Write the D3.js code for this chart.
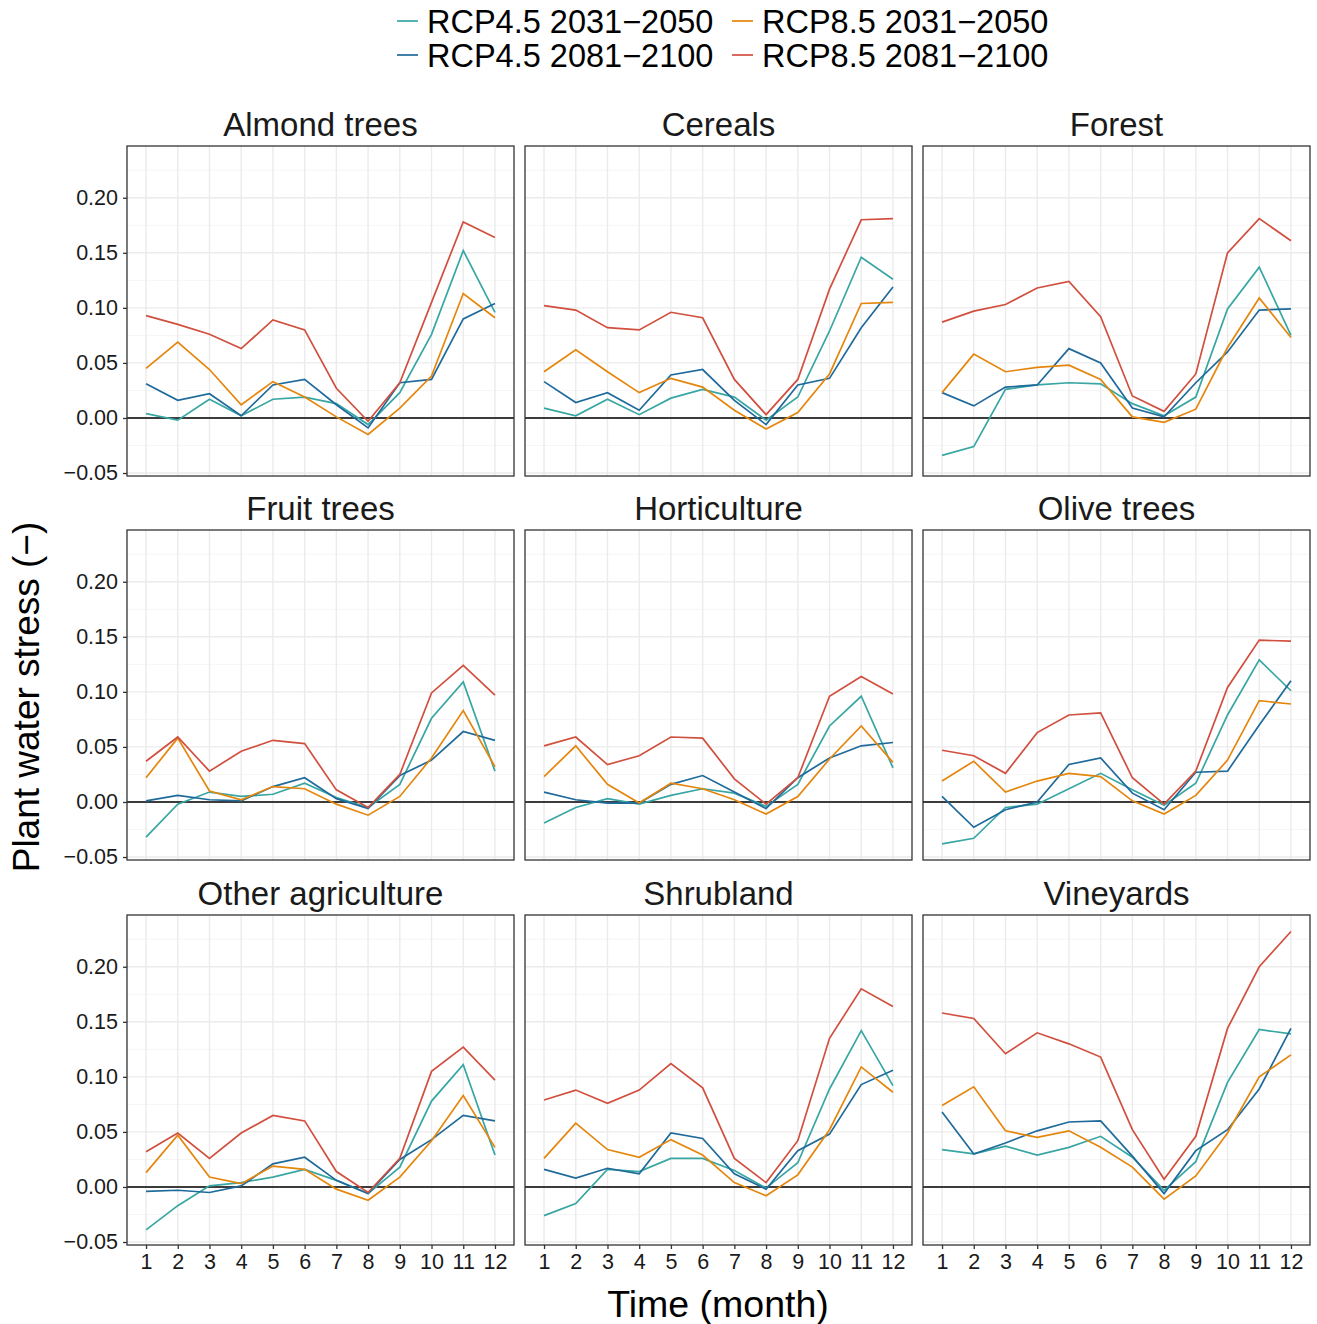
<!DOCTYPE html>
<html lang="en">
<head>
  <meta charset="UTF-8" />
  <title>Plant water stress</title>
  <style>
    body { margin: 0; background: #fff; font-family: 'Liberation Sans', Arial, sans-serif; }
    .grid-major { stroke: #ebebeb; stroke-width: 1.4px; }
    .grid-minor { stroke: #f3f3f3; stroke-width: 0.8px; }
    .series { fill: none; stroke-width: 1.7px; }
    .tick-label { font-size: 21.5px; fill: #1a1a1a; }
  </style>
</head>
<body>
  <svg id="chart"></svg>
  <script src="https://d3js.org/d3.v7.min.js"></script>
  <script>
    const width = 1317;
    const height = 1324;

    const months = [1, 2, 3, 4, 5, 6, 7, 8, 9, 10, 11, 12];
    const landUses = ["Almond trees", "Cereals", "Forest", "Fruit trees", "Horticulture",
      "Olive trees", "Other agriculture", "Shrubland", "Vineyards"];
    const scenarios = ["RCP4.5 2031\u22122050", "RCP4.5 2081\u22122100", "RCP8.5 2031\u22122050", "RCP8.5 2081\u22122100"];
    const colors = ["#38a6a3", "#1f6a9b", "#e5860c", "#d14f3e"];
    const yTicks = [-0.05, 0, 0.05, 0.10, 0.15, 0.20];
    const yMinor = [-0.025, 0.025, 0.075, 0.125, 0.175, 0.225];

    // one row per land use, one value per month
    const rcp45Mid = [
      [0.004, -0.002, 0.017, 0.002, 0.017, 0.019, 0.013, -0.006, 0.023, 0.076, 0.152, 0.096],
      [0.009, 0.002, 0.017, 0.003, 0.018, 0.026, 0.019, -0.002, 0.019, 0.079, 0.146, 0.126],
      [-0.034, -0.026, 0.026, 0.030, 0.032, 0.031, 0.013, 0.002, 0.019, 0.099, 0.137, 0.075],
      [-0.032, -0.002, 0.009, 0.005, 0.007, 0.017, 0.004, -0.005, 0.016, 0.076, 0.109, 0.028],
      [-0.019, -0.005, 0.003, -0.002, 0.006, 0.012, 0.008, -0.004, 0.016, 0.069, 0.096, 0.031],
      [-0.038, -0.033, -0.005, -0.002, 0.012, 0.026, 0.011, -0.003, 0.017, 0.079, 0.129, 0.101],
      [-0.039, -0.017, 0.001, 0.004, 0.009, 0.016, 0.006, -0.006, 0.018, 0.078, 0.111, 0.029],
      [-0.026, -0.015, 0.016, 0.014, 0.026, 0.026, 0.015, -0.001, 0.022, 0.089, 0.142, 0.092],
      [0.034, 0.030, 0.037, 0.029, 0.036, 0.046, 0.027, -0.003, 0.023, 0.095, 0.143, 0.139]
    ];
    const rcp45Far = [
      [0.031, 0.016, 0.022, 0.002, 0.030, 0.035, 0.012, -0.009, 0.032, 0.035, 0.090, 0.104],
      [0.033, 0.014, 0.023, 0.007, 0.039, 0.044, 0.016, -0.006, 0.030, 0.036, 0.082, 0.119],
      [0.023, 0.011, 0.028, 0.030, 0.063, 0.050, 0.009, 0.001, 0.032, 0.060, 0.098, 0.099],
      [0.001, 0.006, 0.002, 0.001, 0.014, 0.022, 0.003, -0.006, 0.024, 0.038, 0.064, 0.056],
      [0.009, 0.002, -0.001, -0.001, 0.016, 0.024, 0.009, -0.006, 0.022, 0.040, 0.051, 0.054],
      [0.005, -0.023, -0.007, 0.000, 0.034, 0.040, 0.008, -0.007, 0.027, 0.028, 0.070, 0.110],
      [-0.004, -0.003, -0.005, 0.001, 0.021, 0.027, 0.006, -0.006, 0.025, 0.043, 0.065, 0.060],
      [0.016, 0.008, 0.017, 0.012, 0.049, 0.044, 0.012, -0.002, 0.033, 0.048, 0.093, 0.106],
      [0.068, 0.030, 0.040, 0.051, 0.059, 0.060, 0.028, -0.006, 0.033, 0.052, 0.089, 0.144]
    ];
    const rcp85Mid = [
      [0.045, 0.069, 0.044, 0.012, 0.033, 0.019, 0.001, -0.015, 0.009, 0.038, 0.113, 0.091],
      [0.042, 0.062, 0.042, 0.023, 0.036, 0.028, 0.007, -0.010, 0.005, 0.040, 0.104, 0.105],
      [0.023, 0.058, 0.042, 0.046, 0.048, 0.035, 0.001, -0.004, 0.008, 0.064, 0.109, 0.073],
      [0.022, 0.058, 0.010, 0.002, 0.014, 0.012, -0.002, -0.012, 0.005, 0.040, 0.083, 0.032],
      [0.023, 0.051, 0.016, -0.001, 0.017, 0.012, 0.002, -0.011, 0.005, 0.039, 0.069, 0.036],
      [0.019, 0.037, 0.009, 0.019, 0.026, 0.023, 0.001, -0.011, 0.006, 0.038, 0.092, 0.089],
      [0.013, 0.047, 0.009, 0.003, 0.019, 0.016, -0.002, -0.012, 0.009, 0.042, 0.083, 0.036],
      [0.026, 0.058, 0.034, 0.027, 0.043, 0.029, 0.004, -0.008, 0.011, 0.052, 0.109, 0.086],
      [0.074, 0.091, 0.051, 0.045, 0.051, 0.036, 0.018, -0.011, 0.010, 0.049, 0.100, 0.120]
    ];
    const rcp85Far = [
      [0.093, 0.085, 0.076, 0.063, 0.089, 0.080, 0.027, -0.003, 0.032, 0.105, 0.178, 0.164],
      [0.102, 0.098, 0.082, 0.080, 0.096, 0.091, 0.035, 0.003, 0.035, 0.117, 0.180, 0.181],
      [0.087, 0.097, 0.103, 0.118, 0.124, 0.092, 0.020, 0.006, 0.040, 0.150, 0.181, 0.161],
      [0.037, 0.059, 0.028, 0.046, 0.056, 0.053, 0.011, -0.005, 0.025, 0.099, 0.124, 0.097],
      [0.051, 0.059, 0.034, 0.042, 0.059, 0.058, 0.021, -0.002, 0.022, 0.096, 0.114, 0.098],
      [0.047, 0.042, 0.026, 0.063, 0.079, 0.081, 0.022, -0.002, 0.028, 0.104, 0.147, 0.146],
      [0.032, 0.049, 0.026, 0.049, 0.065, 0.060, 0.014, -0.005, 0.026, 0.105, 0.127, 0.097],
      [0.079, 0.088, 0.076, 0.088, 0.112, 0.090, 0.026, 0.004, 0.042, 0.135, 0.180, 0.164],
      [0.158, 0.153, 0.121, 0.140, 0.130, 0.118, 0.052, 0.007, 0.046, 0.144, 0.200, 0.232]
    ];
    const seriesData = [rcp45Mid, rcp45Far, rcp85Mid, rcp85Far];

    const svg = d3.select("#chart").attr("width", width).attr("height", height);

    const panelW = 387, panelH = 330;
    const colX = [127, 525, 923];
    const rowY = [146, 530, 915];

    const x = d3.scaleLinear().domain([0.4, 12.6]).range([0, panelW]);
    const y = d3.scaleLinear().domain([-0.0527, 0.247]).range([panelH, 0]);
    const fmt = v => d3.format(".2f")(v).replace("-", "\u2212");

    const line = d3.line().x((d, i) => x(months[i])).y(d => y(d));

    landUses.forEach((name, p) => {
      const col = p % 3, row = Math.floor(p / 3);
      const g = svg.append("g").attr("transform", `translate(${colX[col]},${rowY[row]})`);

      g.selectAll(".grid-minor").data(yMinor).join("line")
        .attr("class", "grid-minor")
        .attr("x1", 0).attr("x2", panelW)
        .attr("y1", d => y(d)).attr("y2", d => y(d));
      g.selectAll(".grid-major.h").data(yTicks).join("line")
        .attr("class", "grid-major h")
        .attr("x1", 0).attr("x2", panelW)
        .attr("y1", d => y(d)).attr("y2", d => y(d));
      g.selectAll(".grid-major.v").data(months).join("line")
        .attr("class", "grid-major v")
        .attr("y1", 0).attr("y2", panelH)
        .attr("x1", d => x(d)).attr("x2", d => x(d));

      g.append("line")
        .attr("x1", 0).attr("x2", panelW)
        .attr("y1", y(0)).attr("y2", y(0))
        .attr("stroke", "#000").attr("stroke-width", 1.6);

      seriesData.forEach((s, k) => {
        g.append("path")
          .attr("class", "series")
          .attr("stroke", colors[k])
          .attr("d", line(s[p]));
      });

      g.append("rect")
        .attr("width", panelW).attr("height", panelH)
        .attr("fill", "none").attr("stroke", "#333").attr("stroke-width", 1.3);

      svg.append("text")
        .attr("x", colX[col] + panelW / 2).attr("y", rowY[row] - 10)
        .attr("text-anchor", "middle")
        .attr("font-size", 33).attr("fill", "#1a1a1a")
        .text(name);

      if (col === 0) {
        const ax = g.append("g").call(d3.axisLeft(y).tickValues(yTicks).tickFormat(fmt).tickSize(4));
        ax.select(".domain").remove();
        ax.selectAll(".tick line").attr("stroke", "#333").attr("stroke-width", 1.3);
        ax.selectAll(".tick text").attr("class", "tick-label").attr("x", -9)
          .style("font-family", "'Liberation Sans', Arial, sans-serif");
      }
      if (row === 2) {
        const ax = g.append("g").attr("transform", `translate(0,${panelH})`)
          .call(d3.axisBottom(x).tickValues(months).tickFormat(d3.format("d")).tickSize(4));
        ax.select(".domain").remove();
        ax.selectAll(".tick line").attr("stroke", "#333").attr("stroke-width", 1.3);
        ax.selectAll(".tick text").attr("class", "tick-label").attr("y", 9)
          .style("font-family", "'Liberation Sans', Arial, sans-serif");
      }
    });

    // axis titles
    svg.append("text")
      .attr("x", 718).attr("y", 1317)
      .attr("text-anchor", "middle").attr("font-size", 37.5).attr("fill", "#000")
      .text("Time (month)");
    svg.append("text")
      .attr("transform", "translate(39,697) rotate(-90)")
      .attr("text-anchor", "middle").attr("font-size", 37).attr("fill", "#000")
      .text("Plant water stress (\u2212)");

    // legend, two rows filled by row
    const legendPos = [[397, 21], [397, 55], [732, 21], [732, 55]];
    scenarios.forEach((s, k) => {
      const [lx, ly] = legendPos[k];
      svg.append("line")
        .attr("x1", lx).attr("x2", lx + 21).attr("y1", ly).attr("y2", ly)
        .attr("stroke", colors[k]).attr("stroke-width", 1.7);
      svg.append("text")
        .attr("x", lx + 30).attr("y", ly).attr("dy", "0.36em")
        .attr("font-size", 32.5).attr("fill", "#000")
        .text(s);
    });
  </script>
</body>
</html>
